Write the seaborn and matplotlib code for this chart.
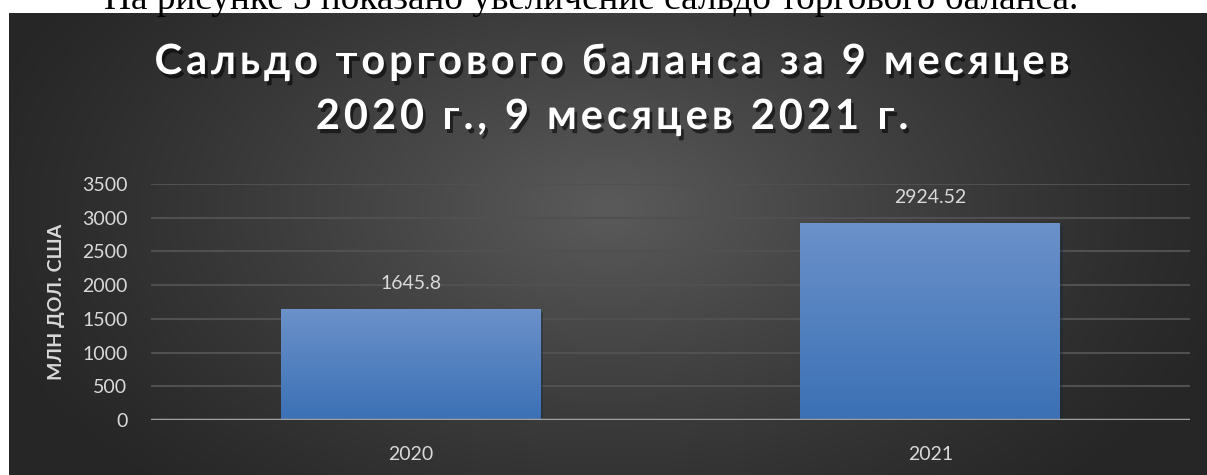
import numpy as np
import matplotlib
matplotlib.use("Agg")
import matplotlib.pyplot as plt
import matplotlib.patheffects as pe
import seaborn as sns
import pandas as pd

years = ["2020", "2021"]
balance = [1645.8, 2924.52]
value_labels = ["1645.8", "2924.52"]
y_ticks = [0, 500, 1000, 1500, 2000, 2500, 3000, 3500]
title_lines = ["Сальдо торгового баланса за 9 месяцев",
               "2020 г., 9 месяцев 2021 г."]
y_label = "МЛН ДОЛ. США"
caption = "На рисунке 3 показано увеличение сальдо торгового баланса."

sns.set_theme(style="dark")
plt.rcParams["font.family"] = ["Lato", "DejaVu Sans"]

W, H = 1207, 475
fig = plt.figure(figsize=(W / 100, H / 100), dpi=100, facecolor="white")
renderer = fig.canvas.get_renderer()

# caption of the surrounding text, mostly above the page edge
fig.text(591 / W, 1 - 9 / H, caption, ha="center", va="baseline",
         family="Liberation Serif", fontsize=26.8, color="black")

# dark chart area with a soft radial highlight
bg = fig.add_axes([9 / W, 0, 1 - 9 / W, (H - 13) / H])
bg.set_axis_off()
gx = np.linspace(-1, 1, 600)
gy = np.linspace(-1, 1, 300)
GX, GY = np.meshgrid(gx, gy)
cx, cy = 0.0, 0.15
r = np.sqrt(((GX - cx) / 1.1) ** 2 + ((GY - cy) / 1.7) ** 2)
r = np.clip(r, 0, 1)
lum = 0.15 + (0.355 - 0.15) * (1 - r) ** 1.2
bg.imshow(np.dstack([lum, lum, lum]), extent=[0, 1, 0, 1], origin="lower",
          aspect="auto", interpolation="bicubic")
bg.set_xlim(0, 1)
bg.set_ylim(0, 1)

ax = fig.add_axes([151 / W, (H - 420) / H, (1190 - 151) / W, (420 - 184) / H])
ax.set_facecolor("none")
df = pd.DataFrame({"year": years, "balance": balance})
sns.barplot(data=df, x="year", y="balance", width=0.5, color="#4a7cc0",
            saturation=1, ax=ax, zorder=3, edgecolor="none", linewidth=0)
ax.set_xlim(-0.5, 1.5)
ax.set_ylim(0, 3500)
ax.set_yticks(y_ticks)
ax.set_yticklabels([str(t) for t in y_ticks])

# vertical blue gradient inside each bar
grad = np.linspace(0, 1, 256)[:, None]
top = np.array([0.42, 0.57, 0.79])
bottom = np.array([0.23, 0.44, 0.71])
cols = bottom + (top - bottom) * grad
img = np.repeat(cols[:, None, :], 2, axis=1)
for p in ax.patches:
    x0, y0 = p.get_x(), p.get_y()
    w, h = p.get_width(), p.get_height()
    p.set_path_effects([pe.SimplePatchShadow(offset=(2, -2), alpha=0.35),
                        pe.Normal()])
    im = ax.imshow(img, extent=[x0, x0 + w, y0, y0 + h], origin="lower",
                   aspect="auto", zorder=4, interpolation="bilinear")
    im.set_clip_path(p)

for i, (v, lab) in enumerate(zip(balance, value_labels)):
    ax.annotate(lab, (i, v), xytext=(0, 12), textcoords="offset points",
                ha="center", va="bottom", fontsize=14, color="#d9d9d9")

ax.grid(axis="y", color="#505050", linewidth=1.5, zorder=0)
ax.grid(axis="x", visible=False)
ax.axhline(0, color="#a0a0a0", linewidth=2.5, zorder=5)
for s in ax.spines.values():
    s.set_visible(False)
ax.tick_params(axis="both", length=0, labelsize=14, labelcolor="#d9d9d9")
ax.tick_params(axis="x", pad=19)
ax.tick_params(axis="y", pad=17)
ax.set_xlabel("")
ax.set_ylabel(y_label, fontsize=14, fontweight="bold", color="#d9d9d9",
              labelpad=12)


# title with widened letter spacing, drawn glyph by glyph
def text_width(s, **kw):
    t = fig.text(0, 0, s, **kw)
    w = t.get_window_extent(renderer).width
    t.remove()
    return w


tkw = dict(fontsize=30, fontweight="bold", color="white")
shadow = [pe.withSimplePatchShadow(offset=(2, -3), shadow_rgbFace="black",
                                   alpha=0.55)]
line1_w = text_width(title_lines[0], **tkw)
tracking = (915 - line1_w) / (len(title_lines[0]) - 1)
for line, base_px in zip(title_lines, [74, 129]):
    n = len(line)
    total = text_width(line, **tkw) + tracking * (n - 1)
    start = 612 - total / 2
    for i, ch in enumerate(line):
        if ch == " ":
            continue
        off = text_width(line[:i], **tkw) if i else 0.0
        x = start + off + tracking * i
        fig.text(x / W, 1 - base_px / H, ch, ha="left", va="baseline",
                 path_effects=shadow, **tkw)

fig.savefig("out.png", dpi=100, facecolor="white")
